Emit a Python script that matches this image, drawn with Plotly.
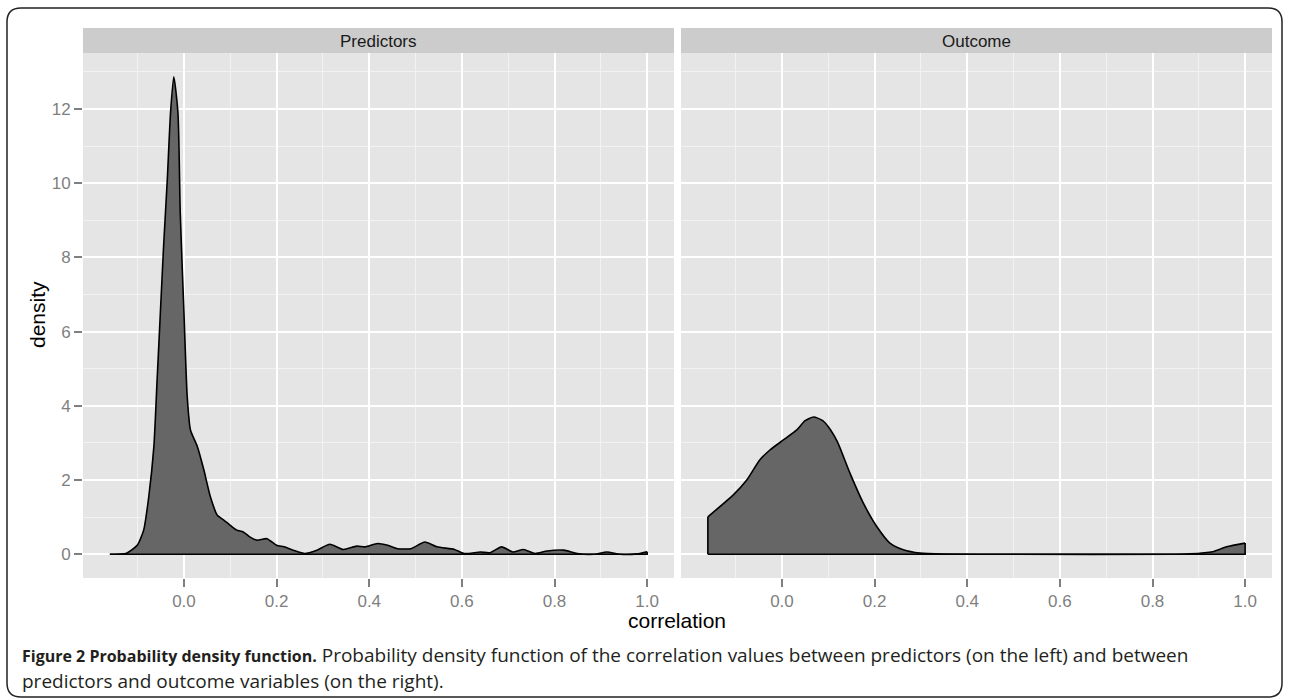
import plotly.graph_objects as go

W, H = 1289, 700

# ---- data ----
pred_x = [-0.16, -0.124, -0.101, -0.087, -0.076, -0.065, -0.058, -0.051, -0.044, -0.036,
          -0.029, -0.022, -0.013, -0.008, 0.0, 0.007, 0.014, 0.029, 0.043, 0.057,
          0.072, 0.086, 0.1, 0.114, 0.128, 0.142, 0.157, 0.179, 0.2, 0.216,
          0.236, 0.261, 0.287, 0.315, 0.344, 0.373, 0.391, 0.418, 0.44, 0.461,
          0.49, 0.52, 0.546, 0.584, 0.605, 0.64, 0.66, 0.686, 0.71, 0.733,
          0.758, 0.784, 0.82, 0.849, 0.885, 0.913, 0.942, 0.978, 1.0]
pred_density = [0.0, 0.03, 0.24, 0.65, 1.55, 2.9, 4.7, 6.5, 8.3, 10.1,
                11.9, 12.87, 11.9, 9.2, 6.5, 4.25, 3.35, 2.9, 2.27, 1.55,
                1.05, 0.92, 0.78, 0.65, 0.6, 0.47, 0.38, 0.42, 0.24, 0.2,
                0.11, 0.02, 0.11, 0.27, 0.13, 0.22, 0.2, 0.29, 0.24, 0.15,
                0.15, 0.33, 0.2, 0.13, 0.02, 0.06, 0.04, 0.2, 0.06, 0.13,
                0.02, 0.09, 0.11, 0.02, 0.0, 0.06, 0.0, 0.01, 0.07]

out_x = [-0.16, -0.105, -0.076, -0.048, -0.026, 0.003, 0.032, 0.05, 0.068, 0.088,
         0.105, 0.12, 0.147, 0.176, 0.205, 0.233, 0.262, 0.298, 0.35, 0.5, 0.85,
         0.88, 0.93, 0.96, 1.0]
out_density = [1.01, 1.6, 2.0, 2.54, 2.81, 3.08, 3.35, 3.6, 3.70, 3.6,
               3.35, 3.02, 2.18, 1.37, 0.74, 0.30, 0.12, 0.03, 0.005, 0.0, 0.0,
               0.01, 0.07, 0.2, 0.30]

panel_labels = ["Predictors", "Outcome"]
x_ticks = [0.0, 0.2, 0.4, 0.6, 0.8, 1.0]
x_ticktext = ["0.0", "0.2", "0.4", "0.6", "0.8", "1.0"]
y_ticks = [0, 2, 4, 6, 8, 10, 12]
y_ticktext = ["0", "2", "4", "6", "8", "10", "12"]
x_minor = [-0.1, 0.1, 0.3, 0.5, 0.7, 0.9]
y_minor = [1, 3, 5, 7, 9, 11, 13]

caption_bold = "Figure 2 Probability density function."
caption_rest1 = " Probability density function of the correlation values between predictors (on the left) and between"
caption_rest2 = "predictors and outcome variables (on the right)."


def px(x):
    return x / W


def py(y):
    return 1 - y / H


fig = go.Figure()
for xs, ys, xa, ya in [(pred_x, pred_density, "x", "y"), (out_x, out_density, "x2", "y2")]:
    # filled polygon closed down to the baseline
    fx = [xs[0]] + xs + [xs[-1], xs[0]]
    fy = [0] + ys + [0, 0]
    fig.add_trace(go.Scatter(x=fx, y=fy, mode="lines", fill="toself", fillcolor="#666666",
                             line=dict(width=0, color="rgba(0,0,0,0)"), xaxis=xa, yaxis=ya,
                             hoverinfo="skip"))
    # smooth outline of the density curve
    fig.add_trace(go.Scatter(x=xs, y=ys, mode="lines",
                             line=dict(color="#000000", width=1.6, shape="spline", smoothing=0.6),
                             xaxis=xa, yaxis=ya, hoverinfo="skip"))
    # end edges and baseline
    ex = [xs[0], xs[0], None, xs[0], xs[-1], xs[-1]]
    ey = [ys[0], 0, None, 0, 0, ys[-1]]
    fig.add_trace(go.Scatter(x=ex, y=ey, mode="lines", line=dict(color="#000000", width=1.6),
                             xaxis=xa, yaxis=ya, hoverinfo="skip"))

L0, L1 = px(83), px(674)
R0, R1 = px(681), px(1272)
YB, YT = py(578), py(53)
xr = [-0.218, 1.058]
yr = [-0.64, 13.51]

tickfont = dict(family="Liberation Sans, Arial, sans-serif", size=17, color="#7F7F7F")
common_x = dict(range=xr, tickmode="array", tickvals=x_ticks, ticktext=x_ticktext,
                showgrid=True, gridcolor="#FFFFFF", gridwidth=1.8, zeroline=False,
                ticks="outside", ticklen=8, tickwidth=1.5, tickcolor="#7F7F7F",
                tickfont=tickfont, showline=False,
                minor=dict(tickmode="array", tickvals=x_minor, showgrid=True,
                           gridcolor="#F2F2F2", gridwidth=1, ticks=""))
common_y = dict(range=yr, tickmode="array", tickvals=y_ticks, ticktext=y_ticktext,
                showgrid=True, gridcolor="#FFFFFF", gridwidth=1.8, zeroline=False,
                showline=False,
                minor=dict(tickmode="array", tickvals=y_minor, showgrid=True,
                           gridcolor="#F2F2F2", gridwidth=1, ticks=""))

fig.update_layout(
    width=W, height=H, margin=dict(l=0, r=0, t=0, b=0),
    paper_bgcolor="#FFFFFF", plot_bgcolor="#E5E5E5", showlegend=False,
    xaxis=dict(domain=[L0, L1], anchor="y", **common_x),
    xaxis2=dict(domain=[R0, R1], anchor="y2", **common_x),
    yaxis=dict(domain=[YB, YT], anchor="x", ticks="outside", ticklen=8, tickwidth=1.5,
               tickcolor="#7F7F7F", tickfont=tickfont, **common_y),
    yaxis2=dict(domain=[YB, YT], anchor="x2", showticklabels=False, ticks="", **common_y),
)

shapes = []
for (a, b) in [(L0, L1), (R0, R1)]:
    shapes.append(dict(type="rect", xref="paper", yref="paper", x0=a, x1=b, y0=py(53), y1=py(28),
                       fillcolor="#CCCCCC", line=dict(width=0)))

bx0, by0, bx1, by1, r = 7, 8, 1282, 697, 14
path = (f"M {px(bx0 + r)},{py(by0)} L {px(bx1 - r)},{py(by0)} "
        f"Q {px(bx1)},{py(by0)} {px(bx1)},{py(by0 + r)} "
        f"L {px(bx1)},{py(by1 - r)} Q {px(bx1)},{py(by1)} {px(bx1 - r)},{py(by1)} "
        f"L {px(bx0 + r)},{py(by1)} Q {px(bx0)},{py(by1)} {px(bx0)},{py(by1 - r)} "
        f"L {px(bx0)},{py(by0 + r)} Q {px(bx0)},{py(by0)} {px(bx0 + r)},{py(by0)} Z")
shapes.append(dict(type="path", xref="paper", yref="paper", path=path,
                   line=dict(color="#222222", width=1.5)))
fig.update_layout(shapes=shapes)

annotations = []
for lab, (a, b) in zip(panel_labels, [(L0, L1), (R0, R1)]):
    annotations.append(dict(text=lab, x=(a + b) / 2, y=py(41), xref="paper", yref="paper",
                            showarrow=False, xanchor="center", yanchor="middle",
                            font=dict(family="Liberation Sans, Arial, sans-serif", size=17,
                                      color="#1A1A1A")))
annotations.append(dict(text="density", x=px(38), y=py(315), xref="paper", yref="paper",
                        showarrow=False, textangle=-90, xanchor="center", yanchor="middle",
                        font=dict(family="Liberation Sans, Arial, sans-serif", size=21,
                                  color="#000000")))
annotations.append(dict(text="correlation", x=px(677), y=py(620), xref="paper", yref="paper",
                        showarrow=False, xanchor="center", yanchor="middle",
                        font=dict(family="Liberation Sans, Arial, sans-serif", size=21,
                                  color="#000000")))
capfont = dict(family="Open Sans, Noto Sans, sans-serif", size=19, color="#231F20")
annotations.append(dict(text=f"<b><span style='font-size:16px'>{caption_bold}</span></b>{caption_rest1}",
                        x=px(20), y=py(655),
                        xref="paper", yref="paper", showarrow=False, xanchor="left",
                        yanchor="middle", align="left", font=capfont))
annotations.append(dict(text=caption_rest2, x=px(20), y=py(681),
                        xref="paper", yref="paper", showarrow=False, xanchor="left",
                        yanchor="middle", align="left", font=capfont))
fig.update_layout(annotations=annotations)

fig.write_html("out.html", config={"displayModeBar": False},
               post_script="document.body.style.margin='0px';document.body.style.overflow='hidden';")
